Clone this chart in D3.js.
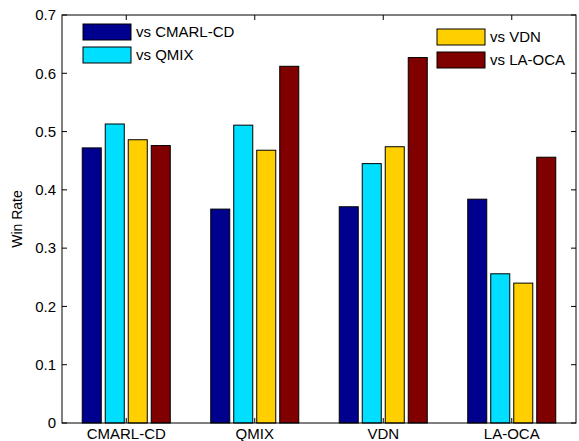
<!DOCTYPE html>
<html>
<head>
<meta charset="utf-8">
<script src="https://cdn.jsdelivr.net/npm/d3@7"></script>
<style>
  body { margin: 0; background: #fff; }
  text { font-family: "Liberation Sans", Arial, sans-serif; fill: #000; }
</style>
</head>
<body>
<svg id="chart" width="579" height="441"></svg>
<script>
const categories = ['CMARL-CD', 'QMIX', 'VDN', 'LA-OCA'];
const seriesNames = ['vs CMARL-CD', 'vs QMIX', 'vs VDN', 'vs LA-OCA'];
const vsCmarl = [0.472, 0.367, 0.371, 0.384];
const vsQmix = [0.513, 0.511, 0.445, 0.256];
const vsVdn = [0.486, 0.468, 0.474, 0.240];
const vsLaoca = [0.476, 0.612, 0.627, 0.456];
const yTicks = [0, 0.1, 0.2, 0.3, 0.4, 0.5, 0.6, 0.7];
const colors = ['#00008f', '#00dfff', '#ffcf00', '#800000'];

const series = [vsCmarl, vsQmix, vsVdn, vsLaoca];

const svg = d3.select('#chart');
const m = { left: 62, right: 576, top: 15, bottom: 423 };

// category positions 1..4, xlim [0.5, 4.5] like matlab
const x = d3.scaleLinear().domain([0.5, 4.5]).range([m.left, m.right]);
const y = d3.scaleLinear().domain([0, 0.7]).range([m.bottom, m.top]);

const unit = x(1) - x(0);
const barW = 0.148 * unit;
const step = 0.179 * unit;

const bars = svg.append('g');
series.forEach((vals, s) => {
  bars.selectAll(null).data(vals).enter()
    .append('rect')
    .attr('x', (d, i) => x(i + 1) + (s - 1.5) * step - barW / 2)
    .attr('y', d => y(d))
    .attr('width', barW)
    .attr('height', d => y(0) - y(d))
    .attr('fill', colors[s])
    .attr('stroke', '#000')
    .attr('stroke-width', 1);
});

// box
svg.append('rect')
  .attr('x', m.left).attr('y', m.top)
  .attr('width', m.right - m.left).attr('height', m.bottom - m.top)
  .attr('fill', 'none').attr('stroke', '#000').attr('stroke-width', 1);

const tickLen = 5;
const ticksG = svg.append('g').attr('stroke', '#000').attr('stroke-width', 1);
yTicks.forEach(t => {
  ticksG.append('line').attr('x1', m.left).attr('x2', m.left + tickLen).attr('y1', y(t)).attr('y2', y(t));
  ticksG.append('line').attr('x1', m.right).attr('x2', m.right - tickLen).attr('y1', y(t)).attr('y2', y(t));
});
categories.forEach((c, i) => {
  ticksG.append('line').attr('x1', x(i + 1)).attr('x2', x(i + 1)).attr('y1', m.bottom).attr('y2', m.bottom - tickLen);
  ticksG.append('line').attr('x1', x(i + 1)).attr('x2', x(i + 1)).attr('y1', m.top).attr('y2', m.top + tickLen);
});

svg.append('g').selectAll('text').data(yTicks).enter()
  .append('text')
  .attr('x', m.left - 6)
  .attr('y', d => y(d))
  .attr('dy', '0.35em')
  .attr('text-anchor', 'end')
  .attr('font-size', 15)
  .text(d => d === 0 ? '0' : d.toFixed(1));

svg.append('g').selectAll('text').data(categories).enter()
  .append('text')
  .attr('x', (d, i) => x(i + 1))
  .attr('y', m.bottom + 16)
  .attr('text-anchor', 'middle')
  .attr('font-size', 15)
  .text(d => d);

svg.append('text')
  .attr('transform', `translate(22, ${(m.top + m.bottom) / 2}) rotate(-90)`)
  .attr('text-anchor', 'middle')
  .attr('font-size', 14)
  .text('Win Rate');

// legends (two blocks, no border)
const legendPos = [
  { x: 83, y: 24 }, { x: 83, y: 47 },
  { x: 437, y: 29 }, { x: 437, y: 52 }
];
const leg = svg.append('g');
seriesNames.forEach((name, s) => {
  const p = legendPos[s];
  leg.append('rect')
    .attr('x', p.x).attr('y', p.y)
    .attr('width', 48).attr('height', 16)
    .attr('fill', colors[s]).attr('stroke', '#000');
  leg.append('text')
    .attr('x', p.x + 53).attr('y', p.y + 8)
    .attr('dy', '0.35em')
    .attr('font-size', 15)
    .text(name);
});
</script>
</body>
</html>
